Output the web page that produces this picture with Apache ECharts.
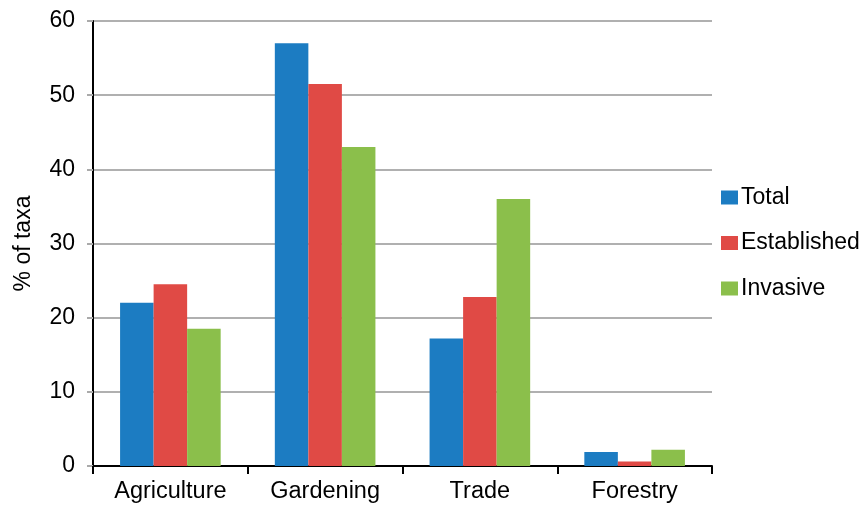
<!DOCTYPE html>
<html>
<head>
<meta charset="utf-8">
<script src="https://cdn.jsdelivr.net/npm/echarts@6/dist/echarts.min.js"></script>
<style>html,body{margin:0;padding:0;background:#fff;}#c{width:864px;height:506px;}</style>
</head>
<body>
<div id="c"></div>
<script>
const categories = ['Agriculture', 'Gardening', 'Trade', 'Forestry'];
const total = [22, 57, 17.2, 1.9];
const established = [24.5, 51.5, 22.8, 0.6];
const invasive = [18.5, 43, 36, 2.2];
const yTicks = { min: 0, max: 60, interval: 10 };

const chart = echarts.init(document.getElementById('c'), null, { renderer: 'canvas' });
const font = 'Liberation Sans, Arial, sans-serif';
chart.setOption({
  backgroundColor: '#fff',
  animation: false,
  textStyle: { fontFamily: font },
  grid: { left: 93, right: 152, top: 21, bottom: 40 },
  legend: {
    orient: 'vertical',
    left: 716, top: 181,
    itemWidth: 17, itemHeight: 14, itemGap: 22.5,
    icon: 'rect',
    textStyle: { fontSize: 23, color: '#000', fontFamily: font, padding: [0, 0, 0, -2] },
    data: ['Total', 'Established', 'Invasive']
  },
  xAxis: {
    type: 'category',
    data: categories,
    axisLine: { lineStyle: { color: '#000', width: 2 } },
    axisTick: { show: true, length: 8, lineStyle: { color: '#000', width: 2 } },
    axisLabel: { fontSize: 23.5, color: '#000', margin: 14, fontFamily: font }
  },
  yAxis: {
    type: 'value',
    min: yTicks.min, max: yTicks.max, interval: yTicks.interval,
    name: '% of taxa',
    nameLocation: 'middle',
    nameGap: 58,
    nameTextStyle: { fontSize: 23, color: '#000', fontFamily: font },
    axisLine: { show: true, lineStyle: { color: '#000', width: 2 } },
    axisTick: { show: true, length: 6, lineStyle: { color: '#aaa', width: 2 } },
    axisLabel: { fontSize: 23, color: '#000', margin: 18, fontFamily: font },
    splitLine: { lineStyle: { color: '#b0b0b0', width: 2 } }
  },
  series: [
    { name: 'Total', type: 'bar', data: total, barGap: '0%', barCategoryGap: '35%',
      itemStyle: { color: '#1c7cc2' } },
    { name: 'Established', type: 'bar', data: established, barGap: '0%', barCategoryGap: '35%',
      itemStyle: { color: '#e04a45' } },
    { name: 'Invasive', type: 'bar', data: invasive, barGap: '0%', barCategoryGap: '35%',
      itemStyle: { color: '#8bbf4b' } }
  ]
});
</script>
</body>
</html>
